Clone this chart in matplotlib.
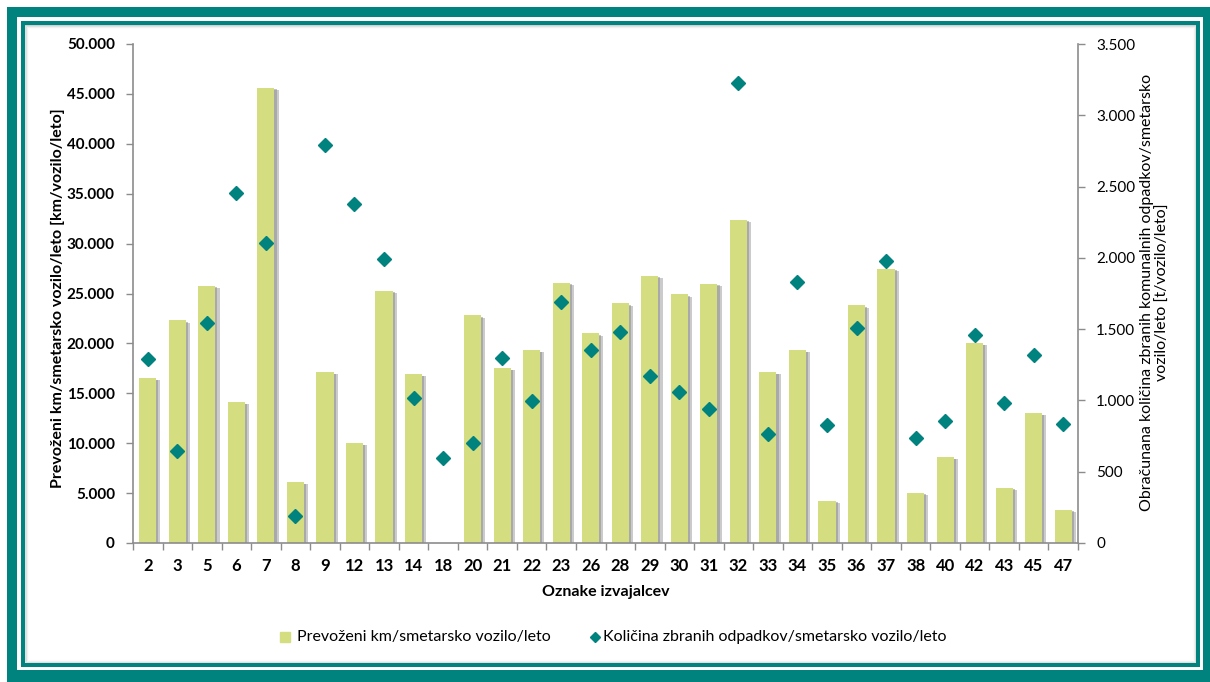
import matplotlib
matplotlib.use("Agg")
import matplotlib.pyplot as plt
from matplotlib.patches import Rectangle
from matplotlib.ticker import FuncFormatter, FixedLocator
import matplotlib.patheffects as pe

categories = ["2", "3", "5", "6", "7", "8", "9", "12", "13", "14", "18", "20", "21", "22", "23", "26",
              "28", "29", "30", "31", "32", "33", "34", "35", "36", "37", "38", "40", "42", "43", "45", "47"]
km_per_vehicle = [16500, 22300, 25800, 14100, 45600, 6100, 17100, 10000, 25300, 16900, 0, 22800,
                  17500, 19300, 26100, 21000, 24000, 26800, 24900, 26000, 32400, 17100, 19300, 4200,
                  23800, 27500, 5000, 8600, 20000, 5500, 13000, 3300]
waste_per_vehicle = [1290, 645, 1543, 2455, 2104, 189, 2792, 2378, 1992, 1017, 596, 701,
                     1298, 996, 1690, 1354, 1480, 1171, 1059, 940, 3226, 765, 1831, 828,
                     1508, 1978, 736, 856, 1459, 982, 1319, 835]

left_label = "Prevoženi km/smetarsko vozilo/leto [km/vozilo/leto]"
right_label = "Obračunana količina zbranih komunalnih odpadkov/smetarsko\nvozilo/leto [t/vozilo/leto]"
x_label = "Oznake izvajalcev"
legend_bar = "Prevoženi km/smetarsko vozilo/leto"
legend_pts = "Količina zbranih odpadkov/smetarsko vozilo/leto"

W, H = 1210, 682
BAR = "#D4DE80"
TEAL = "#00827F"
FONT = ["Lato", "DejaVu Sans"]
plt.rcParams["font.family"] = FONT

fig = plt.figure(figsize=(W / 100, H / 100), dpi=100)
fig.patch.set_facecolor("white")


def frect(x0, y0, x1, y1, **kw):
    r = Rectangle((x0 / W, 1 - y1 / H), (x1 - x0) / W, (y1 - y0) / H,
                  transform=fig.transFigure, **kw)
    fig.add_artist(r)
    return r


# frame
frect(7, 7, 1212, 684, facecolor=TEAL, edgecolor="none", zorder=-10)
frect(17, 17, 1203, 670, facecolor="white", edgecolor="none", zorder=-9)
frect(21, 21, 1200, 667, facecolor=TEAL, edgecolor="none", zorder=-8)
frect(25, 25, 1196, 663, facecolor="#d0d0d0", edgecolor="none", zorder=-7)
for i, a in enumerate([0.35, 0.55, 0.75, 0.9, 1.0]):
    frect(25 + i + 0.5, 25 + i + 0.5, 1196 - i - 0.5, 663 - i - 0.5,
          facecolor=(1, 1, 1, a) if i < 4 else "white", edgecolor="none", zorder=-7 + 0.1 * (i + 1))

ax = fig.add_axes([133 / W, 1 - 543 / H, (1078 - 133) / W, (543 - 44) / H])
ax.set_facecolor("none")
ax2 = ax.twinx()

x = list(range(len(categories)))
bars = ax.bar(x, km_per_vehicle, width=0.58, color=BAR, edgecolor="none", zorder=2)
for b in bars:
    b.set_path_effects([pe.SimplePatchShadow(offset=(3, -1.5), shadow_rgbFace="#999999", alpha=0.5),
                        pe.SimplePatchShadow(offset=(1.5, -1), shadow_rgbFace="#888888", alpha=0.5),
                        pe.Normal()])

ax2.plot(x, waste_per_vehicle, linestyle="none", marker="D", markersize=7,
         color=TEAL, markeredgecolor=TEAL, zorder=3)

ax.set_xlim(-0.5, len(categories) - 0.5)
ax.set_ylim(0, 50000)
ax2.set_ylim(0, 3500)
ax.set_yticks(range(0, 50001, 5000))
ax2.set_yticks(range(0, 3501, 500))
fmt = FuncFormatter(lambda v, p: f"{int(v):,}".replace(",", "."))
ax.yaxis.set_major_formatter(fmt)
ax2.yaxis.set_major_formatter(fmt)

ax.set_xticks(x)
ax.set_xticklabels(categories)
ax.xaxis.set_minor_locator(FixedLocator([i - 0.5 for i in range(len(categories) + 1)]))
ax.tick_params(axis="x", which="major", length=0, pad=11, labelsize=12)
ax.tick_params(axis="x", which="minor", length=5, color="#8c8c8c", width=1)
ax.tick_params(axis="y", length=5, color="#8c8c8c", width=1, labelsize=11, pad=8)
ax2.tick_params(axis="y", length=5, color="#8c8c8c", width=1, labelsize=11, pad=8)
for lab in ax.get_xticklabels() + ax.get_yticklabels():
    lab.set_fontweight("bold")

for a in (ax, ax2):
    for s in a.spines.values():
        s.set_visible(False)
ax.spines["left"].set_visible(True)
ax.spines["bottom"].set_visible(True)
ax2.spines["right"].set_visible(True)
for s in (ax.spines["left"], ax.spines["bottom"], ax2.spines["right"]):
    s.set_color("#8c8c8c")
    s.set_linewidth(1.2)

ax.set_xlabel(x_label, fontsize=11.5, fontweight="bold", labelpad=8)
fig.text(58 / W, 1 - 298 / H, left_label, rotation=90, ha="center", va="center",
         fontsize=11.5, fontweight="bold")
fig.text(1155 / W, 1 - 292 / H, right_label, rotation=90, ha="center", va="center",
         fontsize=11.5, linespacing=1.15)

# legend
ly = 1 - 637 / H
fig.add_artist(plt.Line2D([285 / W], [ly], marker="s", markersize=7, color=BAR, linestyle="none",
                          transform=fig.transFigure))
fig.text(297 / W, ly, legend_bar, ha="left", va="center", fontsize=11.5)
fig.add_artist(plt.Line2D([595 / W], [ly], marker="D", markersize=5.5, color=TEAL, linestyle="none",
                          transform=fig.transFigure))
fig.text(603 / W, ly, legend_pts, ha="left", va="center", fontsize=11.5)

fig.savefig("out.png", dpi=100, facecolor="white")
